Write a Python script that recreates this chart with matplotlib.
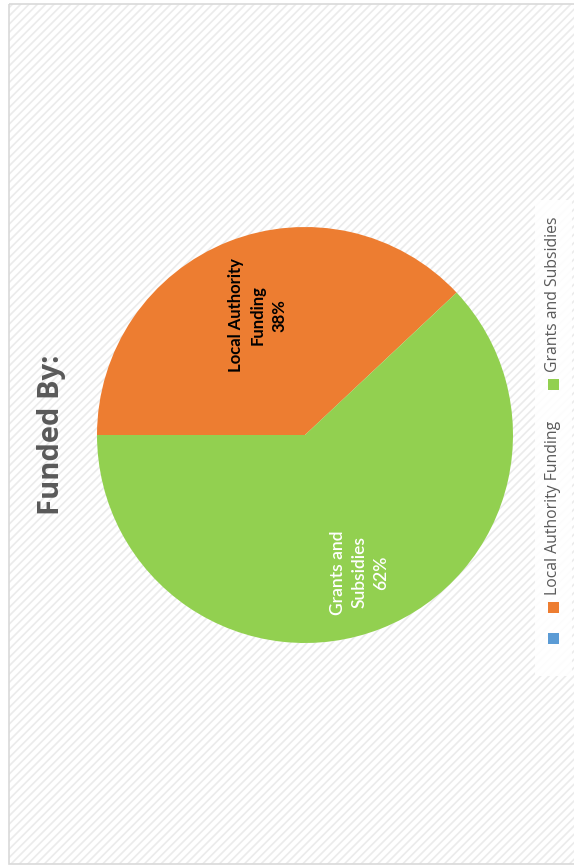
import numpy as np
import matplotlib
matplotlib.use('Agg')
import matplotlib.pyplot as plt
from matplotlib.patches import Rectangle

TITLE = 'Funded By:'
CATEGORIES = ['', 'Local Authority Funding', 'Grants and Subsidies']
VALUES = [0, 38, 62]
LABELS = ['', 'Local Authority\nFunding\n38%', 'Grants and\nSubsidies\n62%']
COLORS = ['#5B9BD5', '#ED7D31', '#92D050']
LABEL_COLORS = ['black', 'black', 'white']
LABEL_WEIGHTS = ['bold', 'bold', 'semibold']

W, H = 574, 867
plt.rcParams['hatch.linewidth'] = 1.2

fig = plt.figure(figsize=(W / 100, H / 100), dpi=100)
fig.patch.set_facecolor('white')

# background: hatched chart area + border, in pixel coords
bg = fig.add_axes([0, 0, 1, 1])
bg.set_xlim(0, W)
bg.set_ylim(H, 0)
bg.axis('off')
bg.add_patch(Rectangle((9, 4), W, 860, facecolor='white', edgecolor='#ebebeb',
                       hatch='////', linewidth=0))
bg.add_patch(Rectangle((9, 4), W, 860, fill=False, edgecolor='#d9d9d9', linewidth=1.2))
# legend box
bg.add_patch(Rectangle((535, 200), 37, 476, facecolor='white', edgecolor='none', alpha=0.9))

# title (chart is rotated 90 degrees)
bg.text(51, 435, TITLE, rotation=90, ha='center', va='center', fontsize=21,
        fontweight='bold', color='#595959', family='Open Sans')

# pie
cx, cy, r = 305, 435, 208
ax = fig.add_axes([(cx - r) / W, (H - cy - r) / H, 2 * r / W, 2 * r / H])
vals = np.array(VALUES, dtype=float)
wedges, _ = ax.pie(vals[1:], colors=COLORS[1:], startangle=180, counterclock=False,
                   radius=1, wedgeprops=dict(linewidth=0))
ax.set_xlim(-1, 1)
ax.set_ylim(-1, 1)
ax.set_aspect('equal')
ax.axis('off')

dists = [0.62, 0.71]
sizes = [12, 12.5]
for w, lab, col, wt, d, fs in zip(wedges, LABELS[1:], LABEL_COLORS[1:], LABEL_WEIGHTS[1:],
                                  dists, sizes):
    mid = np.deg2rad((w.theta1 + w.theta2) / 2)
    ax.text(d * np.cos(mid), d * np.sin(mid), lab, rotation=90, ha='center', va='center',
            fontsize=fs, fontweight=wt, color=col, family='Lato', linespacing=1.45,
            multialignment='center')

# legend drawn by hand (rotated)
leg_x = 553
ys = [638, 607, 384]
for cat, col, y in zip(CATEGORIES, COLORS, ys):
    bg.add_patch(Rectangle((leg_x - 5.5, y - 5.5), 11, 11, facecolor=col, edgecolor='none'))
    if cat:
        bg.text(leg_x, y - 12, cat, rotation=90, ha='center', va='bottom', fontsize=11.3,
                color='#595959', family='Open Sans')

fig.savefig('out.png', dpi=100)
